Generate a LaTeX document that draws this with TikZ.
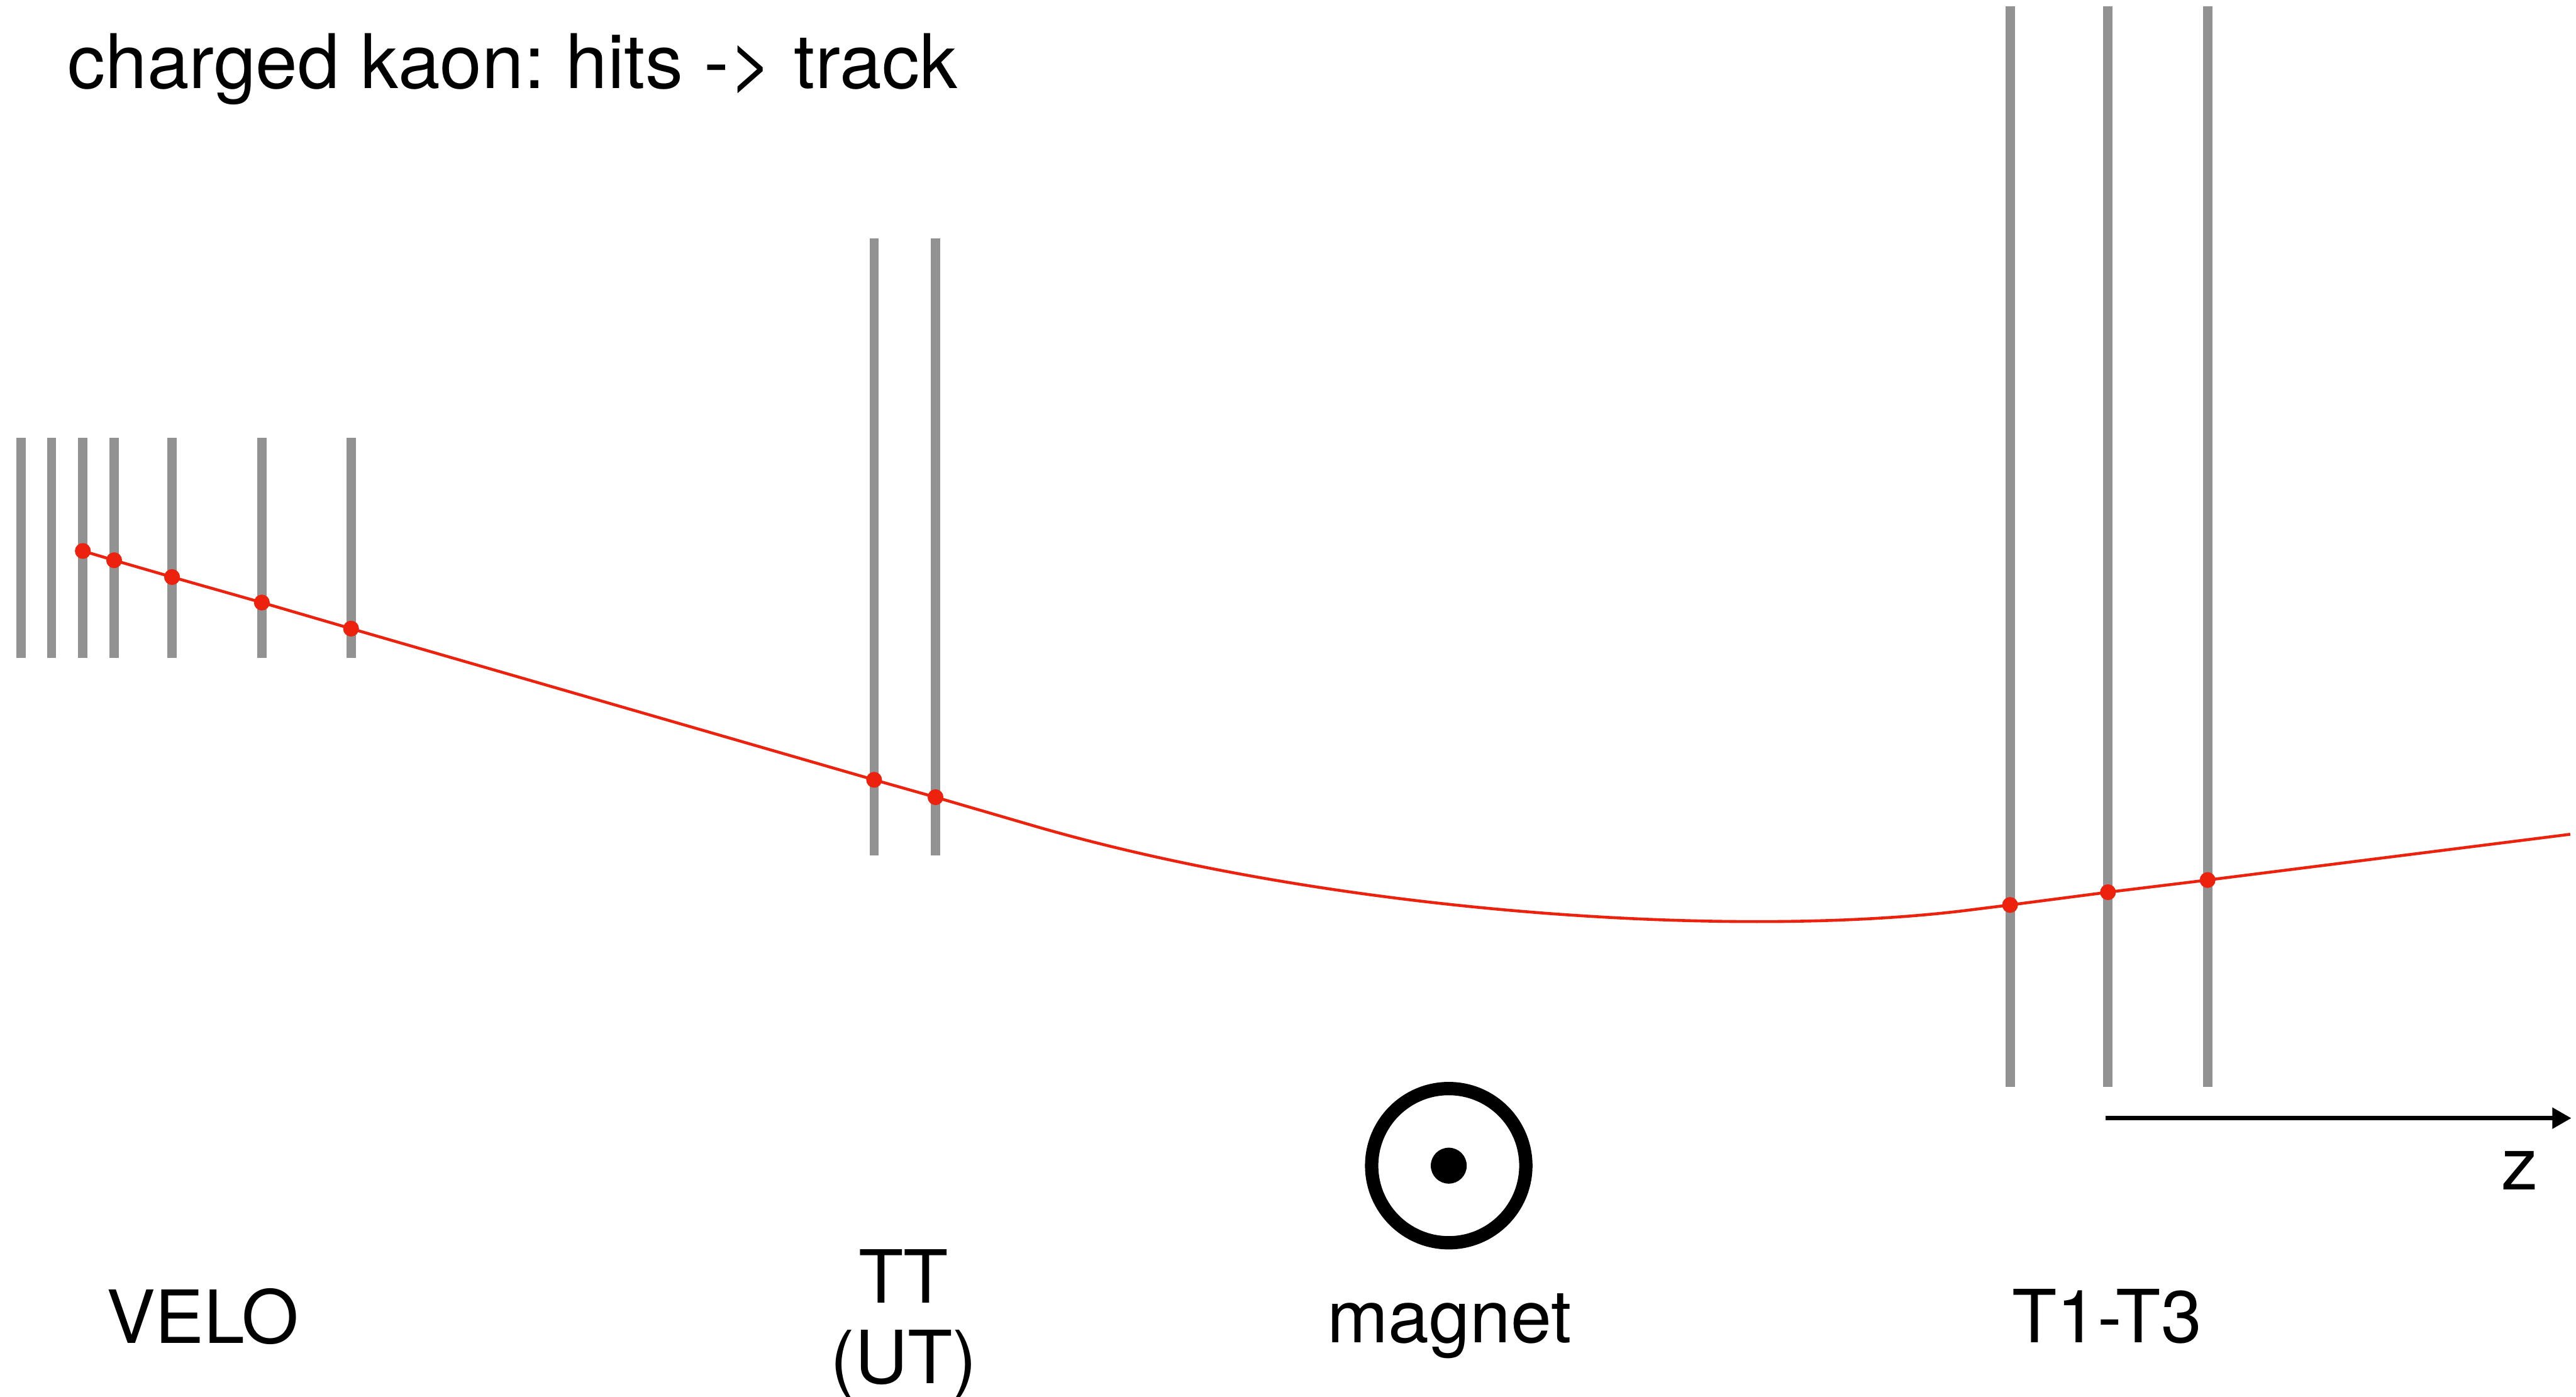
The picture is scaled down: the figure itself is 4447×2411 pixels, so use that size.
\documentclass[tikz,border=0pt]{standalone}
\usepackage{fontspec}
\setmainfont{TeX Gyre Heros}
\usetikzlibrary{arrows.meta}
\definecolor{planegray}{RGB}{146,146,146}
\definecolor{trackred}{RGB}{236,34,14}
\frenchspacing
\begin{document}
\begin{tikzpicture}[x=0.01cm,y=-0.01cm,
  plane/.style={draw=planegray,line width=0.16cm},
  track/.style={draw=trackred,line width=0.05cm},
  hit/.style={circle,fill=trackred,inner sep=0pt,minimum size=0.27cm},
  lbl/.style={font=\fontsize{36}{39.5}\selectfont,inner sep=0pt,anchor=base}]
\useasboundingbox (0,0) rectangle (4447,2411);
% title
\node[lbl,anchor=base west,font=\fontsize{37}{40}\selectfont] (title) at (116,153) {charged kaon: hits -> track};
% VELO planes
\foreach \x in {36,89,143,197,297,452,606} \draw[plane] (\x,756) -- (\x,1136);
% TT planes
\foreach \x in {1509,1615} \draw[plane] (\x,411) -- (\x,1477);
% T stations
\foreach \x in {3470,3639,3811} \draw[plane] (\x,11) -- (\x,1876);
% hits
\node[hit] (v1) at (143,951) {};
\node[hit] (v2) at (197,967) {};
\node[hit] (v3) at (297,996) {};
\node[hit] (v4) at (452,1040) {};
\node[hit] (v5) at (606,1085) {};
\node[hit] (u1) at (1509,1346) {};
\node[hit] (u2) at (1615,1376) {};
\node[hit] (s1) at (3470,1562) {};
\node[hit] (s2) at (3639,1540) {};
\node[hit] (s3) at (3811,1519) {};
\coordinate (kinkA) at (1790,1427);
\coordinate (kinkB) at (3398,1571);
\coordinate (trackend) at (4437,1440);
% track
\draw[track] (v1.center) -- (v2.center) -- (v3.center) -- (v4.center) -- (v5.center)
  -- (u1.center) -- (u2.center) -- (kinkA)
  .. controls (2310,1577) and (2998,1621) .. (kinkB)
  -- (s1.center) -- (s2.center) -- (s3.center) -- (trackend);
% hits on top
\foreach \h in {v1,v2,v3,v4,v5,u1,u2,s1,s2,s3} \fill[trackred] (\h.center) circle (0.135cm);
% magnet
\node[circle,draw=black,line width=0.23cm,minimum size=2.66cm,inner sep=0pt] (magnet) at (2501,2012) {};
\fill[black] (magnet.center) circle (0.31cm);
% z axis
\coordinate (zstart) at (3635,1930);
\coordinate (ztip) at (4439,1930);
\draw[line width=0.08cm,-{Triangle[length=0.33cm,width=0.35cm]}] (zstart) -- (ztip);
\node[lbl] (zlabel) at (4350,2054) {z};
% labels
\node[lbl] (velo) at (350,2318) {VELO};
\node[lbl,align=center] (tt) at (1560,2388) {TT\\(UT)};
\node[lbl] (mag) at (2502,2317) {magnet};
\node[lbl] (tstat) at (3637,2317) {T1-T3};
\end{tikzpicture}
\end{document}
